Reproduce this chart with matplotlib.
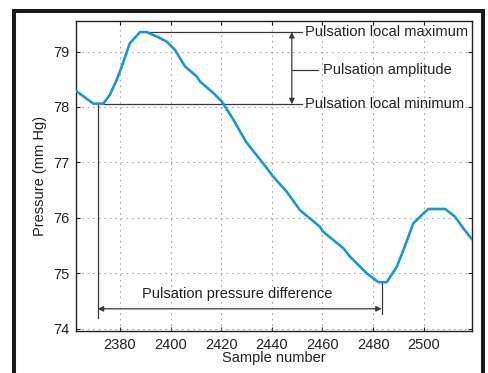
import numpy as np
import matplotlib
matplotlib.use('Agg')
import matplotlib.pyplot as plt
from matplotlib.lines import Line2D

plt.rcParams['font.family'] = ['Liberation Sans', 'DejaVu Sans']

# pressure trace
sample = [2362.6, 2369.4, 2373.4, 2376.0, 2378.7, 2380.7, 2383.9, 2387.9, 2390.5,
          2394.5, 2398.4, 2401.7, 2405.7, 2410.3, 2411.6, 2416.9, 2420.2, 2424.8,
          2429.8, 2436.6, 2440.6, 2445.9, 2451.1, 2459.0, 2460.3, 2464.3, 2468.3,
          2470.9, 2477.5, 2482.1, 2485.4, 2489.4, 2492.0, 2495.9, 2499.9, 2501.9,
          2508.5, 2512.4, 2515.7, 2519.0]
pressure = [78.29, 78.06, 78.06, 78.22, 78.49, 78.73, 79.15, 79.35, 79.35,
            79.27, 79.18, 79.03, 78.73, 78.55, 78.46, 78.25, 78.10, 77.77,
            77.37, 76.98, 76.74, 76.47, 76.14, 75.84, 75.75, 75.60, 75.45,
            75.30, 75.00, 74.84, 74.84, 75.12, 75.42, 75.90, 76.08, 76.16,
            76.16, 76.02, 75.81, 75.62]

x_ticks = [2380, 2400, 2420, 2440, 2460, 2480, 2500]
y_ticks = [74, 75, 76, 77, 78, 79]

local_max = 79.35
local_min = 78.05
min_sample = 2371.2
trough_sample = 2483.4
trough_value = 74.84

fig = plt.figure(figsize=(4.89, 3.73), dpi=100)
ax = fig.add_axes([76 / 489, 1 - 331 / 373, (472 - 76) / 489, (331 - 21) / 373])

# black frame around the figure
W, H = 489, 373
frame_kw = dict(color='#1a1a1a', lw=2.9, transform=fig.transFigure, solid_capstyle='projecting')
fig.add_artist(Line2D([14.2 / W, 14.2 / W], [-0.05, 1 - 11.2 / H], **frame_kw))
fig.add_artist(Line2D([483.2 / W, 483.2 / W], [-0.05, 1 - 11.2 / H], **frame_kw))
fig.add_artist(Line2D([14.2 / W, 483.2 / W], [1 - 11.2 / H, 1 - 11.2 / H], **frame_kw))

ax.plot(sample, pressure, color='#1b98d3', lw=1.9, zorder=3)

ax.set_xlim(2362.6, 2519.1)
ax.set_ylim(73.96, 79.55)
ax.set_xticks(x_ticks)
ax.set_yticks(y_ticks)
ax.grid(True, color='#a8a8a8', linestyle=(0, (1.5, 3.5)), lw=0.8)
ax.tick_params(direction='in', length=3, width=0.8, top=True, right=True,
               labelsize=10.5, colors='#222222', pad=5)
for s in ax.spines.values():
    s.set_color('#222222')
    s.set_linewidth(1.0)
ax.set_xlabel('Sample number', fontsize=10.5, color='#222222', labelpad=-1)
ax.set_ylabel('Pressure (mm Hg)', fontsize=10.5, color='#222222', labelpad=4)

lc = '#3a3a3a'
txt = dict(fontsize=10.5, color='#222222', va='center')
amp_x = 2447.9
line_end = 2451.8

# local max / min guide lines
ax.plot([2390.5, line_end], [local_max, local_max], color=lc, lw=0.9)
ax.plot([2373.4, line_end], [local_min, local_min], color=lc, lw=0.9)
ax.text(2453.1, local_max, 'Pulsation local maximum', ha='left', **txt)
ax.text(2453.1, local_min, 'Pulsation local minimum', ha='left', **txt)

# amplitude arrow
ax.annotate('', xy=(amp_x, local_max), xytext=(amp_x, local_min),
            arrowprops=dict(arrowstyle='<|-|>', color=lc, lw=0.9, mutation_scale=8,
                            shrinkA=0, shrinkB=0))
amp_mid = 78.67
ax.plot([amp_x, 2458.3], [amp_mid, amp_mid], color=lc, lw=0.9)
ax.text(2460.1, amp_mid, 'Pulsation amplitude', ha='left', **txt)

# pressure difference
ax.plot([min_sample, min_sample], [local_min, 74.20], color=lc, lw=0.9)
ax.plot([trough_sample, trough_sample], [trough_value, 74.26], color=lc, lw=0.9)
ax.annotate('', xy=(min_sample, 74.36), xytext=(trough_sample, 74.36),
            arrowprops=dict(arrowstyle='<|-|>', color=lc, lw=0.9, mutation_scale=8,
                            shrinkA=0, shrinkB=0))
ax.text(2426.4, 74.62, 'Pulsation pressure difference', ha='center', **txt)

fig.savefig('out.png', dpi=100)
